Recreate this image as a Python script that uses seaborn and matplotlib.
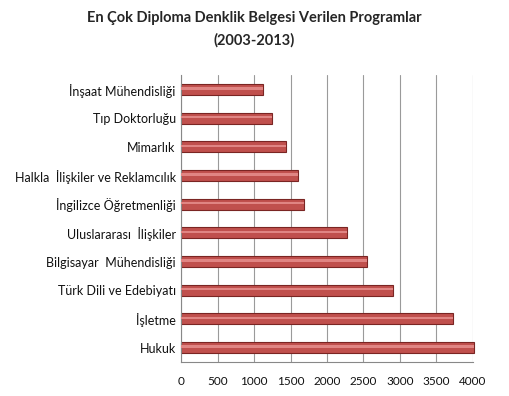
import pandas as pd
import numpy as np
import matplotlib
matplotlib.use("Agg")
import matplotlib.pyplot as plt
import seaborn as sns

# ---- data ----
programs = ["İnşaat Mühendisliği", "Tıp Doktorluğu", "Mimarlık",
            "Halkla  İlişkiler ve Reklamcılık", "İngilizce Öğretmenliği",
            "Uluslararası  İlişkiler", "Bilgisayar  Mühendisliği",
            "Türk Dili ve Edebiyatı", "İşletme", "Hukuk"]
counts = [1120, 1240, 1440, 1600, 1690, 2270, 2550, 2900, 3730, 4020]
xticks = [0, 500, 1000, 1500, 2000, 2500, 3000, 3500, 4000]

df = pd.DataFrame({"program": programs, "count": counts})

sns.set_style("white")
plt.rcParams["font.family"] = ["Lato", "DejaVu Sans"]

fig = plt.figure(figsize=(5.09, 3.96), dpi=100)
ax = fig.add_axes([0.356, 0.086, 0.573, 0.724])

sns.barplot(data=df, x="count", y="program", order=programs, orient="h",
            color="#C0504D", saturation=1, width=0.38,
            edgecolor="#7A2523", linewidth=0.8, ax=ax)

# light stripe to hint the cylinder shading
for p in list(ax.patches):
    p.set_clip_on(False)
    y0 = p.get_y()
    h = p.get_height()
    stripe = ax.barh(y0 + h * 0.3, p.get_width(), height=h * 0.2, left=0,
                     color="#E08583", linewidth=0, align="edge", zorder=3)
    for s in stripe:
        s.set_clip_on(False)

ax.set_xlim(0, 4002)
ax.set_ylim(9.5, -0.5)
ax.set_xticks(xticks)
ax.set_xticklabels([str(t) for t in xticks], fontsize=8.5)
ax.set_xlabel("")
ax.set_ylabel("")
ax.set_yticks(np.arange(-0.5, 10, 1), minor=True)
ax.tick_params(axis="y", which="major", labelsize=9, length=0, pad=4,
               labelcolor="#111111")
ax.tick_params(axis="y", which="minor", length=4, color="#888888")
ax.tick_params(axis="x", length=4, color="#888888", pad=6, labelcolor="#111111")

ax.xaxis.grid(True, color="#9A9A9A", linewidth=0.8)
ax.set_axisbelow(True)
for side in ["top", "right"]:
    ax.spines[side].set_visible(False)
for side in ["left", "bottom"]:
    ax.spines[side].set_color("#888888")
    ax.spines[side].set_linewidth(0.8)

fig.text(0.5, 0.955, "En Çok Diploma Denklik Belgesi Verilen Programlar",
         ha="center", va="center", fontsize=10.5, fontweight="bold")
fig.text(0.5, 0.898, "(2003-2013)", ha="center", va="center",
         fontsize=10.5, fontweight="bold")

fig.savefig("out.png", dpi=100)
